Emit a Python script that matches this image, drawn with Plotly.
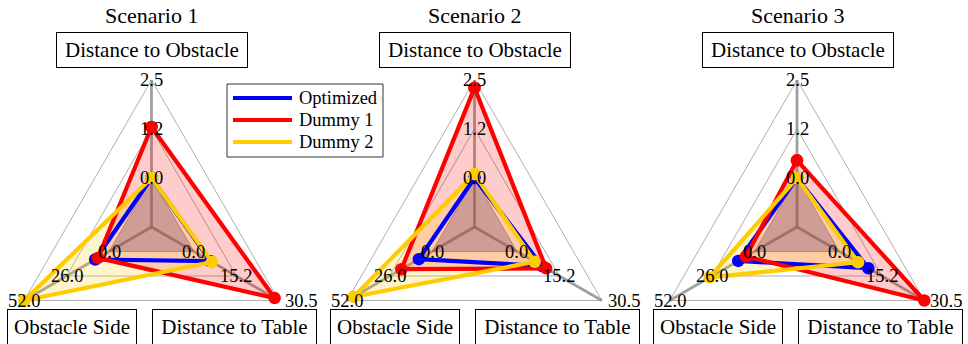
import numpy as np
import plotly.graph_objects as go

# ---- data -----------------------------------------------------------------
scenarios = ["Scenario 1", "Scenario 2", "Scenario 3"]
axis_names = ["Distance to Obstacle", "Obstacle Side", "Distance to Table"]
axis_max = [2.5, 52.0, 30.5]

series_names = ["Optimized", "Dummy 1", "Dummy 2"]
series_colors = ["#0000ff", "#ff0000", "#ffcc00"]
series_fill = [None, "rgba(255,0,0,0.2)", "rgba(255,204,0,0.2)"]

# values per scenario, ordered like axis_names
optimized = [[0.0, 8.5, 6.0], [0.0, 8.1, 9.0], [0.0, 10.0, 10.4]]
dummy1 = [[1.3, 6.8, 29.0], [2.3, 18.8, 10.5], [0.45, 5.3, 30.5]]
dummy2 = [[0.0, 52.0, 6.5], [0.1, 48.0, 6.4], [0.0, 27.5, 6.7]]
series_values = [optimized, dummy1, dummy2]

# ---- layout geometry --------------------------------------------------------
W, H = 968, 344
R = 147.0
CY = 227.0
centers_x = [151.5, 474.5, 797.0]
angles = np.deg2rad([90.0, 210.0, 330.0])
FONT = "Liberation Serif"


def frac(v, m):
    # radial axis runs from -m/2 at the centre to m at the rim
    return (v + m / 2.0) / (1.5 * m)


def point(cx, k, f):
    return cx + R * f * np.cos(angles[k]), CY - R * f * np.sin(angles[k])


def polygon(cx, values):
    xs, ys = [], []
    for k, v in enumerate(values):
        x, y = point(cx, k, frac(v, axis_max[k]))
        xs.append(x)
        ys.append(y)
    return xs + xs[:1], ys + ys[:1]


fig = go.Figure()
annotations = []
tick_fracs = [1 / 3, 2 / 3, 1.0]

for p, cx in enumerate(centers_x):
    # grid triangles
    for f in tick_fracs:
        pts = [point(cx, k, f) for k in range(3)]
        xs = [q[0] for q in pts] + [pts[0][0]]
        ys = [q[1] for q in pts] + [pts[0][1]]
        fig.add_trace(go.Scatter(x=xs, y=ys, mode="lines",
                                 line=dict(color="#a6a6a6", width=0.9),
                                 hoverinfo="skip"))
    # spokes
    for k in range(3):
        x1, y1 = point(cx, k, 1.0)
        fig.add_trace(go.Scatter(x=[cx, x1], y=[CY, y1], mode="lines",
                                 line=dict(color="rgba(120,120,120,0.7)", width=2.8),
                                 hoverinfo="skip"))
    # area fills
    for s in range(3):
        if series_fill[s] is None:
            continue
        xs, ys = polygon(cx, series_values[s][p])
        fig.add_trace(go.Scatter(x=xs, y=ys, mode="lines", fill="toself",
                                 fillcolor=series_fill[s],
                                 line=dict(width=0, color=series_fill[s]),
                                 hoverinfo="skip"))
    # shaded core below zero
    pts = [point(cx, k, frac(0.0, axis_max[k])) for k in range(3)]
    fig.add_trace(go.Scatter(x=[q[0] for q in pts] + [pts[0][0]],
                             y=[q[1] for q in pts] + [pts[0][1]],
                             mode="lines", fill="toself",
                             fillcolor="rgba(70,25,115,0.26)",
                             line=dict(width=0, color="rgba(0,0,0,0)"),
                             hoverinfo="skip"))
    # series outlines and markers
    for s in range(3):
        xs, ys = polygon(cx, series_values[s][p])
        fig.add_trace(go.Scatter(x=xs, y=ys, mode="lines+markers",
                                 name=series_names[s],
                                 line=dict(color=series_colors[s], width=4.2),
                                 marker=dict(color=series_colors[s], size=12.5),
                                 hoverinfo="skip"))

    # tick labels on each spoke
    for k in range(3):
        m = axis_max[k]
        for tv in [0.0, m / 2.0, m]:
            x, y = point(cx, k, frac(tv, m))
            xa = "center"
            if k == 2 and tv == m:
                xa = "left"
                x += 4
            annotations.append(dict(x=x, y=y, xref="x", yref="y",
                                    text=f"{tv:.1f}", showarrow=False,
                                    xanchor=xa, yanchor="middle",
                                    font=dict(family=FONT, size=18.5, color="black")))

    # panel title
    annotations.append(dict(x=cx, y=15, xref="x", yref="y", text=scenarios[p],
                            showarrow=False, xanchor="center", yanchor="middle",
                            font=dict(family=FONT, size=22, color="black")))

    # boxed axis names
    boxes = [(cx + 0.5, 50, 192), (cx - 79.5, 327, 130), (cx + 83.0, 327, 165)]
    for k, (bx, by, bw) in enumerate(boxes):
        annotations.append(dict(x=bx, y=by, xref="x", yref="y", text=axis_names[k],
                                showarrow=False, xanchor="center", yanchor="middle",
                                width=bw - 2, height=34, borderpad=0,
                                bordercolor="black", borderwidth=1, bgcolor="white",
                                align="center", valign="middle",
                                font=dict(family=FONT, size=21, color="black")))

# legend box
shapes = [dict(type="rect", xref="x", yref="y", x0=227, x1=383, y0=84, y1=157,
               line=dict(color="#333333", width=1), fillcolor="white", layer="above")]
for s, name in enumerate(series_names):
    ly = 98 + s * 22
    shapes.append(dict(type="line", xref="x", yref="y", x0=233, x1=292, y0=ly, y1=ly,
                       line=dict(color=series_colors[s], width=4.2), layer="above"))
    annotations.append(dict(x=297, y=ly, xref="x", yref="y", text=name, showarrow=False,
                            xanchor="left", yanchor="middle",
                            font=dict(family=FONT, size=18.5, color="black")))

fig.update_layout(
    width=W, height=H,
    margin=dict(l=0, r=0, t=0, b=0),
    paper_bgcolor="white", plot_bgcolor="white",
    showlegend=False,
    xaxis=dict(range=[0, W], visible=False, fixedrange=True),
    yaxis=dict(range=[H, 0], visible=False, fixedrange=True),
    annotations=annotations,
    shapes=shapes,
)

fig.write_html("out.html")
